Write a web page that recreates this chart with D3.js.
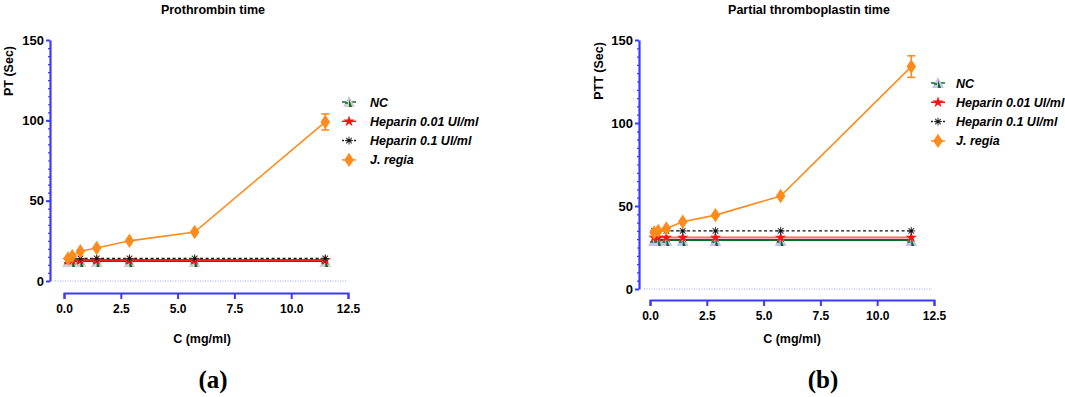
<!DOCTYPE html>
<html>
<head>
<meta charset="utf-8">
<script src="https://cdn.jsdelivr.net/npm/d3@7"></script>
<style>
  body { margin: 0; background: #fff; }
  text { font-family: "Liberation Sans", Arial, sans-serif; }
</style>
</head>
<body>
<svg id="chart" width="1065" height="397"></svg>
<script>
// concentrations (mg/ml)
var conc = [0.18, 0.36, 0.72, 1.44, 2.88, 5.75, 11.5];
var xTicks = [0, 2.5, 5, 7.5, 10, 12.5];
var yTicks = [0, 50, 100, 150];
var seriesNames = ["NC", "Heparin 0.01 Ul/ml", "Heparin 0.1 Ul/ml", "J. regia"];

// prothrombin time (sec)
var ptNC = [12.5, 12.5, 12.5, 12.5, 12.5, 12.5, 12.5];
var ptHep001 = [13, 13, 13, 13, 13, 13, 13];
var ptHep01 = [14, 14, 14, 14, 14, 14, 14];
var ptJregia = [14, 15.5, 18.5, 20.5, 25, 30.5, 99];
var ptJregiaErr = [0.5, 0.5, 0.8, 0.8, 1, 1, 5];

// partial thromboplastin time (sec)
var pttNC = [29.5, 29.5, 29.5, 29.5, 29.5, 29.5, 29.5];
var pttHep001 = [31, 31, 31, 31, 31, 31, 31];
var pttHep01 = [35, 35, 35, 35, 35, 35, 35];
var pttJregia = [34, 35, 36.5, 40.5, 44.5, 56, 134];
var pttJregiaErr = [1, 1, 1, 1, 1, 1.5, 6.5];

var axisBlue = "#3b3bff";
var orange = "#ff8c1a";
var green = "#0b6b22";

var svg = d3.select("#chart");

function drawNC(g, tri) {
  g.append("path").attr("d", "M0,-6 L6,5 L-6,5 Z").attr("fill", tri);
  g.append("path").attr("d", "M0,-3 L3,5 L0,5 Z").attr("fill", green);
  g.append("line").attr("x1", -4).attr("x2", -1).attr("y1", 1).attr("y2", 1)
    .attr("stroke", green).attr("stroke-width", 1.5);
}

function drawMarker(g, name, tri) {
  if (name == "NC") {
    drawNC(g, tri);
  } else if (name == "Heparin 0.01 Ul/ml") {
    g.append("path").attr("d", d3.symbol().type(d3.symbolStar).size(40)()).attr("fill", "#ff1010");
  } else if (name == "Heparin 0.1 Ul/ml") {
    for (var a = 0; a < 4; a++) {
      g.append("line")
        .attr("x1", 0).attr("y1", -4).attr("x2", 0).attr("y2", 4)
        .attr("transform", "rotate(" + (a * 45) + ")")
        .attr("stroke", "#333").attr("stroke-width", 1);
    }
    g.append("circle").attr("r", 1.5).attr("fill", "#111");
  } else {
    g.append("path").attr("d", d3.symbol().type(d3.symbolDiamond).size(60)())
      .attr("transform", "scale(1.15,1)").attr("fill", orange);
  }
}

function panel(cfg) {
  var x = d3.scaleLinear().domain([0, 12.5]).range([cfg.x0, cfg.x1]);
  var y = d3.scaleLinear().domain([0, 150]).range([cfg.yBottom, cfg.yTop]);
  var g = svg.append("g");

  // dotted baseline at zero
  g.append("line")
    .attr("x1", cfg.yAxisX + 5).attr("x2", cfg.x1 - 2)
    .attr("y1", y(0)).attr("y2", y(0))
    .attr("stroke", "#9aa4ff").attr("stroke-width", 1)
    .attr("stroke-dasharray", "1,1.5");

  // y axis with minor ticks
  var yMinor = g.append("g")
    .attr("transform", "translate(" + cfg.yAxisX + ",0)")
    .call(d3.axisLeft(y).tickValues(d3.range(0, 151, 5)).tickSize(2).tickFormat(""));
  yMinor.select(".domain").remove();
  yMinor.selectAll("line").attr("stroke", axisBlue).attr("stroke-width", 1.2);

  var yAx = g.append("g")
    .attr("transform", "translate(" + cfg.yAxisX + ",0)")
    .call(d3.axisLeft(y).tickValues(yTicks).tickSize(4).tickSizeOuter(0).tickPadding(2));
  yAx.select(".domain").attr("stroke", axisBlue).attr("stroke-width", 2.2);
  yAx.selectAll("line").attr("stroke", axisBlue).attr("stroke-width", 2);
  yAx.selectAll("text").attr("font-size", 13).attr("font-weight", "bold").attr("fill", "#000");

  // x axis, offset from y axis
  var xAx = g.append("g")
    .attr("transform", "translate(0," + cfg.xAxisY + ")")
    .call(d3.axisBottom(x).tickValues(xTicks).tickSize(6).tickSizeOuter(6)
      .tickFormat(d3.format(".1f")).tickPadding(5));
  xAx.select(".domain").attr("stroke", axisBlue).attr("stroke-width", 2);
  xAx.selectAll("line").attr("stroke", axisBlue).attr("stroke-width", 2);
  xAx.selectAll("text").attr("font-size", 12).attr("font-weight", "bold").attr("fill", "#000");

  // titles
  g.append("text").attr("x", cfg.titleX).attr("y", 14).attr("text-anchor", "middle")
    .attr("font-size", 12.5).attr("font-weight", "bold").text(cfg.title);
  g.append("text")
    .attr("transform", "translate(" + (cfg.yLabelX) + ",71) rotate(-90)")
    .attr("text-anchor", "middle").attr("font-size", 12.5).attr("font-weight", "bold")
    .text(cfg.yLabel);
  g.append("text").attr("x", cfg.xLabelX).attr("y", 343).attr("text-anchor", "middle")
    .attr("font-size", 12.5).attr("font-weight", "bold").text("C (mg/ml)");
  g.append("text").attr("x", cfg.tagX).attr("y", 388).attr("text-anchor", "middle")
    .style("font-family", "'Liberation Serif', 'Times New Roman', serif")
    .attr("font-size", 25).attr("font-weight", "bold").text(cfg.tag);

  var line = d3.line()
    .x(function(d) { return x(d.c) })
    .y(function(d) { return y(d.v) });

  function pts(vals) {
    return conc.map(function(c, i) { return {c: c, v: vals[i]} });
  }

  // NC
  g.append("path").attr("d", line(pts(cfg.nc))).attr("fill", "none")
    .attr("stroke", green).attr("stroke-width", 2);
  // Heparin 0.01
  g.append("path").attr("d", line(pts(cfg.hep001))).attr("fill", "none")
    .attr("stroke", cfg.redColor).attr("stroke-width", 2);
  // Heparin 0.1
  g.append("path").attr("d", line(pts(cfg.hep01))).attr("fill", "none")
    .attr("stroke", "#111").attr("stroke-width", 1.3).attr("stroke-dasharray", "3,2.5");

  pts(cfg.nc).forEach(function(d) {
    drawNC(g.append("g").attr("transform", "translate(" + x(d.c) + "," + (y(d.v) + 1) + ")"), cfg.triColor);
  });
  pts(cfg.hep001).forEach(function(d) {
    drawMarker(g.append("g").attr("transform", "translate(" + x(d.c) + "," + y(d.v) + ")"), "Heparin 0.01 Ul/ml");
  });
  pts(cfg.hep01).forEach(function(d) {
    drawMarker(g.append("g").attr("transform", "translate(" + x(d.c) + "," + y(d.v) + ")"), "Heparin 0.1 Ul/ml");
  });

  // J. regia with error bars
  var jr = pts(cfg.jr);
  g.append("path").attr("d", line(jr)).attr("fill", "none")
    .attr("stroke", orange).attr("stroke-width", 1.6);
  jr.forEach(function(d, i) {
    var e = cfg.jrErr[i];
    var eg = g.append("g").attr("stroke", orange).attr("stroke-width", 1.6);
    eg.append("line").attr("x1", x(d.c)).attr("x2", x(d.c)).attr("y1", y(d.v - e)).attr("y2", y(d.v + e));
    if (y(d.v - e) - y(d.v + e) > 6) {
      eg.append("line").attr("x1", x(d.c) - 4).attr("x2", x(d.c) + 4).attr("y1", y(d.v - e)).attr("y2", y(d.v - e));
      eg.append("line").attr("x1", x(d.c) - 4).attr("x2", x(d.c) + 4).attr("y1", y(d.v + e)).attr("y2", y(d.v + e));
    }
    drawMarker(g.append("g").attr("transform", "translate(" + x(d.c) + "," + y(d.v) + ")"), "J. regia");
  });

  // legend
  var leg = g.append("g").attr("transform", "translate(" + cfg.legX + "," + cfg.legY + ")");
  seriesNames.forEach(function(name, i) {
    var row = leg.append("g").attr("transform", "translate(0," + (i * 19.3) + ")");
    var lc = name == "NC" ? green : name == "J. regia" ? orange : name == "Heparin 0.01 Ul/ml" ? "#ff1010" : "#222";
    row.append("line").attr("x1", -7).attr("x2", 7).attr("y1", 0).attr("y2", 0)
      .attr("stroke", lc).attr("stroke-width", 1.5)
      .attr("stroke-dasharray", name == "Heparin 0.1 Ul/ml" ? "2,2" : null);
    drawMarker(row.append("g"), name, cfg.triColor);
    row.append("text").attr("x", cfg.legTextX).attr("y", 4.5)
      .attr("font-size", 12.5).attr("font-weight", "bold").attr("font-style", "italic")
      .text(name);
  });
}

panel({
  title: "Prothrombin time", titleX: 213,
  yLabel: "PT (Sec)", yLabelX: 13,
  yAxisX: 50, yTop: 40, yBottom: 281,
  x0: 64, x1: 348, xAxisY: 293, xLabelX: 202,
  tag: "(a)", tagX: 213,
  nc: ptNC, hep001: ptHep001, hep01: ptHep01, jr: ptJregia, jrErr: ptJregiaErr,
  triColor: "#cfcfcf", redColor: "#ff2020",
  legX: 349, legY: 102, legTextX: 21
});

panel({
  title: "Partial thromboplastin time", titleX: 809,
  yLabel: "PTT (Sec)", yLabelX: 603,
  yAxisX: 639, yTop: 40, yBottom: 289,
  x0: 650, x1: 934, xAxisY: 300, xLabelX: 792,
  tag: "(b)", tagX: 823,
  nc: pttNC, hep001: pttHep001, hep01: pttHep01, jr: pttJregia, jrErr: pttJregiaErr,
  triColor: "#c3c3f0", redColor: "#ff6b6b",
  legX: 938, legY: 83, legTextX: 18
});
</script>
</body>
</html>
